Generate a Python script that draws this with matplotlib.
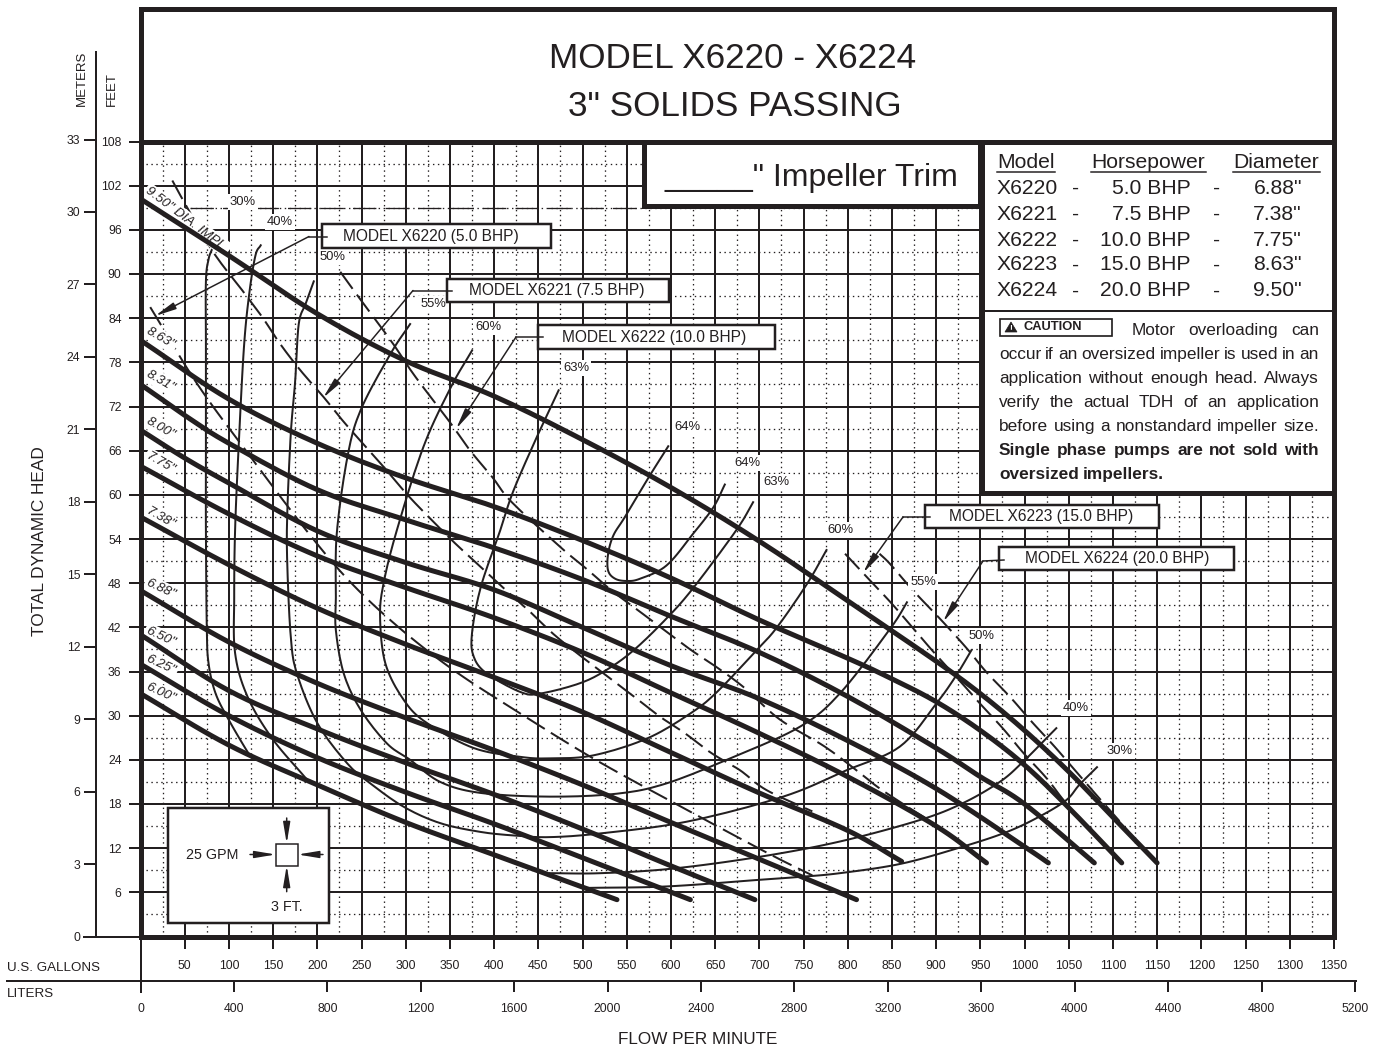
import matplotlib
matplotlib.use("Agg")
import matplotlib.pyplot as plt
from matplotlib.patches import Rectangle, Polygon
import numpy as np

plt.rcParams['font.family'] = ['Liberation Sans', 'DejaVu Sans']

INK = '#231f20'

# head curves, gpm / feet
h950_q = [0, 100, 200, 300, 400, 500, 600, 700, 800, 900, 950, 1000, 1050, 1100, 1150]
h950_h = [100.2, 92.5, 84.6, 78.2, 73.4, 67.5, 61, 53.7, 45.6, 37.4, 33, 28, 22.4, 16.2, 10]
h863_q = [0, 100, 200, 300, 400, 500, 600, 700, 800, 850, 900, 950, 1000, 1050, 1110]
h863_h = [81, 73, 67, 62.3, 58.4, 53.8, 48.7, 43, 37.8, 35, 31.9, 28, 23.3, 17.5, 10]
h831_q = [0, 50, 100, 200, 300, 400, 500, 600, 700, 800, 900, 950, 1000, 1079]
h831_h = [75, 70.8, 67, 60.7, 56.6, 52.8, 48.5, 43.5, 38.6, 32.6, 25.6, 21.7, 18, 10]
h800_q = [0, 50, 100, 200, 300, 400, 500, 600, 700, 800, 900, 1000, 1027]
h800_h = [68.8, 65, 61.6, 55.1, 50.8, 47.1, 42, 36.8, 32.3, 26.6, 20.1, 12.2, 10]
h775_q = [0, 100, 200, 300, 400, 500, 600, 700, 800, 900, 957]
h775_h = [63.9, 57.4, 51.7, 47.4, 43.3, 38.6, 33.1, 27.6, 21.7, 15, 10]
h738_q = [0, 100, 200, 300, 400, 500, 600, 700, 800, 861]
h738_h = [57, 50.5, 44.6, 39.7, 35.2, 30.5, 25, 19.5, 14.4, 10.2]
h688_q = [0, 100, 200, 300, 400, 500, 600, 700, 810]
h688_h = [47, 40, 34.4, 29.7, 25.3, 20.6, 15.5, 10.5, 5]
h650_q = [0, 100, 200, 300, 400, 500, 600, 695]
h650_h = [41, 33.4, 28.2, 23.6, 19.3, 14.6, 9.6, 5]
h625_q = [0, 100, 200, 300, 400, 500, 622]
h625_h = [37, 30, 24.3, 19.6, 15.3, 10.7, 5]
h600_q = [0, 100, 200, 300, 400, 539]
h600_h = [33, 26, 20.6, 15.5, 11.1, 5]

# efficiency contours
e30a_q = [81, 77, 74, 74, 74, 74, 75, 77, 85, 100, 121, 126]
e30a_h = [93.4, 92, 89, 80, 66.5, 55.2, 42, 37.1, 33, 29.4, 25.1, 24.4]
e30b_q = [505, 595, 700, 746, 791, 861, 930, 980, 1017, 1047, 1062, 1082]
e30b_h = [6.6, 6.8, 7.7, 8.1, 8.6, 9.9, 12.2, 14.2, 16.3, 18.5, 20.6, 23]
e40a_q = [136, 130, 123, 117, 111, 107, 106, 107, 121, 149, 187]
e40a_h = [93.9, 92.5, 87.3, 80, 66.5, 55.2, 46.1, 38.5, 32.6, 26.9, 21.5]
e40b_q = [463, 520, 600, 699, 791, 881, 930, 972, 998, 1036]
e40b_h = [8.6, 8.6, 9.2, 10.8, 12.9, 15.8, 18.1, 21, 23.7, 28.3]
e50_q = [196, 187, 179, 175, 170, 166, 166, 170, 177, 200, 234, 260, 298, 339, 385, 425, 463, 520, 618, 727, 799, 859, 900, 923, 940]
e50_h = [89, 86, 83.2, 75.5, 68.3, 57.4, 50.7, 40.7, 35.7, 29, 23.5, 20.8, 17.6, 15.4, 14.2, 13.7, 13.5, 14, 15.6, 19, 22.6, 25.8, 31.6, 35.5, 38.9]
e55_q = [305, 283, 249, 234, 222, 221, 221, 230, 249, 279, 305, 339, 385, 463, 539, 595, 671, 746, 791, 848, 867]
e55_h = [83.2, 79.2, 71.5, 65.1, 54.7, 46.1, 41.6, 35.7, 30.8, 26.2, 24, 21, 19.5, 19, 19.4, 20.8, 24.4, 28.5, 33, 41.8, 45.4]
e60_q = [375, 351, 320, 290, 275, 271, 277, 298, 324, 377, 430, 463, 512, 573, 622, 652, 697, 720, 754, 776]
e60_h = [79.6, 74.6, 66.5, 55.2, 48, 43.4, 37.1, 32.1, 29, 25.6, 24.4, 24.2, 24.6, 26.9, 30.3, 33.2, 38.9, 42, 47.9, 52.5]
e63_q = [473, 450, 422, 407, 385, 375, 377, 392, 430, 452, 497, 527, 558, 595, 625, 674, 693]
e63_h = [74.2, 68.3, 60.6, 55.2, 47.5, 41.2, 38, 35.7, 33.2, 33, 34.4, 36.2, 38.9, 43.2, 47.3, 55.2, 59]
e64_q = [597, 575, 548, 535, 529, 529, 537, 550, 565, 595, 625, 648, 661]
e64_h = [66.6, 62.4, 57, 54.5, 52, 49.7, 48.6, 48.3, 48.6, 50.4, 54.7, 58.3, 61.4]

# motor power limit lines
p50_q = [11, 64, 123, 192, 241, 296, 354, 419, 512, 612, 710, 760]
p50_h = [85.5, 75.1, 65.4, 54.5, 47.7, 41.6, 36.2, 31.1, 24.2, 17.6, 11.3, 8.3]
p75_q = [36, 45, 81, 115, 138, 158, 181, 207, 230, 255, 275, 302, 330, 356, 385, 411, 439, 467, 497, 556, 586, 616, 646, 678, 708, 760]
p75_h = [102.7, 100.7, 93.2, 87.8, 84.1, 80.5, 76.9, 73.3, 69.9, 66.5, 63.8, 60, 56.5, 53.4, 50.2, 47.3, 44.3, 41.1, 38.2, 32.8, 30, 27.6, 24.9, 22.6, 19.9, 17]
p100_q = [226, 241, 264, 287, 307, 330, 351, 373, 398, 420, 475, 504, 533, 563, 593, 623, 654, 684, 723, 774, 814, 834, 864, 897]
p100_h = [90.3, 87.8, 84.1, 80.3, 76.7, 73, 69.7, 66, 62.4, 59, 52.9, 50, 47, 44.3, 41.6, 38.9, 36.4, 33.7, 29.5, 25.8, 22.2, 20.3, 17.9, 15.4]
p150_q = [797, 825, 850, 876, 899, 933, 950, 976, 999, 1025, 1047, 1074, 1090]
p150_h = [52, 48.4, 45.2, 41.6, 38.4, 33.9, 31.6, 28.2, 24.9, 21.5, 18.1, 14.5, 12.5]
p200_q = [836, 848, 874, 908, 935, 957, 984, 1008, 1034, 1057, 1083, 1108, 1118]
p200_h = [52, 50.6, 47, 42.7, 39.1, 35.9, 32.5, 29.2, 25.8, 22.6, 19, 15.6, 14.2]

gallon_ticks = list(range(0, 1351, 50))
feet_ticks = list(range(0, 109, 6))
meter_ticks = list(range(0, 34, 3))
liter_ticks = list(range(0, 5201, 400))

table_models = ['X6220', 'X6221', 'X6222', 'X6223', 'X6224']
table_hp = ['5.0 BHP', '7.5 BHP', '10.0 BHP', '15.0 BHP', '20.0 BHP']
table_dia = ['6.88"', '7.38"', '7.75"', '8.63"', '9.50"']

caution_lines = [
    "Motor overloading can",
    "occur if an oversized impeller is used in an",
    "application without enough head. Always",
    "verify the actual TDH of an application",
    "before using a nonstandard impeller size.",
]
caution_bold = ["Single phase pumps are not sold with", "oversized impellers."]


def smooth(q, h, n=10):
    # catmull-rom, only so the drawn line has no corners
    p = np.column_stack([q, h]).astype(float)
    p = np.vstack([2 * p[0] - p[1], p, 2 * p[-1] - p[-2]])
    out = []
    for i in range(1, len(p) - 2):
        for t in np.linspace(0, 1, n, endpoint=False):
            out.append(0.5 * (2 * p[i] + (p[i + 1] - p[i - 1]) * t
                              + (2 * p[i - 1] - 5 * p[i] + 4 * p[i + 1] - p[i + 2]) * t ** 2
                              + (3 * p[i] - p[i - 1] - 3 * p[i + 1] + p[i + 2]) * t ** 3))
    out.append(p[-2])
    out = np.array(out)
    return out[:, 0], out[:, 1]


PX = 0.72  # points per pixel at dpi 100
W, H = 1380, 1050
X0, X1 = 140.5, 1333.9
Y0, Y1 = 936.5, 141.5
px_ft = (Y0 - Y1) / 108
px_gpm = (X1 - X0) / 1350
ARROW = '-|>,head_length=0.9,head_width=0.15'

fig = plt.figure(figsize=(13.8, 10.5), dpi=100)
ax = fig.add_axes([X0 / W, (H - Y0) / H, (X1 - X0) / W, (Y0 - Y1) / H])
ov = fig.add_axes([0, 0, 1, 1], zorder=5)
ov.set_xlim(0, W)
ov.set_ylim(H, 0)
ov.axis('off')

ax.set_xlim(0, 1350)
ax.set_ylim(0, 108)
for s in ax.spines.values():
    s.set_visible(False)
ax.set_xticks(gallon_ticks)
ax.set_xticklabels([''] + [str(v) for v in gallon_ticks[1:]], fontsize=8.8, color=INK)
ax.set_yticks(feet_ticks)
ax.set_yticklabels([''] + [str(v) for v in feet_ticks[1:]], fontsize=8.8, color=INK)
ax.set_xticks(np.arange(25, 1350, 50), minor=True)
ax.set_yticks(np.arange(3, 108, 6), minor=True)
ax.tick_params(which='major', length=12 * PX, width=2 * PX, color=INK)
ax.tick_params(axis='x', which='major', pad=8)
ax.tick_params(axis='y', which='major', pad=5)
ax.tick_params(which='minor', length=0)
ax.set_axisbelow(True)
ax.grid(which='major', color=INK, lw=2 * PX)
ax.grid(which='minor', color=INK, lw=1.3 * PX, ls=(0, (1.1, 2.7)))
ax.plot([56, 570], [99, 99], color=INK, lw=1.3 * PX, ls=(0, (18, 7)), zorder=0.8)

for q, h in [(h950_q, h950_h), (h863_q, h863_h), (h831_q, h831_h), (h800_q, h800_h), (h775_q, h775_h),
             (h738_q, h738_h), (h688_q, h688_h), (h650_q, h650_h), (h625_q, h625_h), (h600_q, h600_h)]:
    sx, sy = smooth(q, h)
    ax.plot(sx, sy, color=INK, lw=5 * PX, solid_capstyle='round', zorder=3)

for q, h in [(e30a_q, e30a_h), (e30b_q, e30b_h), (e40a_q, e40a_h), (e40b_q, e40b_h), (e50_q, e50_h),
             (e55_q, e55_h), (e60_q, e60_h), (e63_q, e63_h), (e64_q, e64_h)]:
    sx, sy = smooth(q, h)
    ax.plot(sx, sy, color=INK, lw=2 * PX, zorder=2.5)

for q, h in [(p50_q, p50_h), (p75_q, p75_h), (p100_q, p100_h), (p150_q, p150_h), (p200_q, p200_h)]:
    sx, sy = smooth(q, h)
    ax.plot(sx, sy, color=INK, lw=2 * PX, ls=(0, (10.5, 3.6)), zorder=2.5)

# meters axis
ax_m = fig.add_axes([96.5 / W, (H - Y0) / H, 0.0001, (Y0 - 52) / H])
ax_m.set_ylim(0, (Y0 - 52) / px_ft / 3.2808)
ax_m.set_xticks([])
ax_m.set_yticks(meter_ticks)
ax_m.tick_params(axis='y', length=12 * PX, width=2 * PX, color=INK, pad=3, labelsize=8.8, labelcolor=INK)
for k, s in ax_m.spines.items():
    s.set_visible(k == 'left')
ax_m.spines['left'].set_linewidth(2 * PX)
ax_m.spines['left'].set_color(INK)
ax_m.patch.set_visible(False)

# liters axis
ax_l = fig.add_axes([X0 / W, (H - 981) / H, (1355.5 - X0) / W, 0.0001])
ax_l.set_xlim(0, (1355.5 - X0) / px_gpm * 3.785)
ax_l.set_yticks([])
ax_l.set_xticks(liter_ticks)
ax_l.tick_params(axis='x', length=11 * PX, width=2 * PX, color=INK, pad=8, labelsize=8.8, labelcolor=INK)
for k, s in ax_l.spines.items():
    s.set_visible(k == 'bottom')
ax_l.spines['bottom'].set_linewidth(2 * PX)
ax_l.spines['bottom'].set_color(INK)
ax_l.patch.set_visible(False)

ov.plot([6.5, X0], [981, 981], color=INK, lw=2 * PX)
ov.plot([X0, X0], [937, 992], color=INK, lw=2 * PX)
ov.plot([84, X0], [Y0, Y0], color=INK, lw=2 * PX)
ov.text(7, 968, 'U.S. GALLONS', fontsize=9.6, color=INK, va='center')
ov.text(7, 994, 'LITERS', fontsize=9.6, color=INK, va='center')
ov.text(697.5, 1039, 'FLOW PER MINUTE', fontsize=12.3, color=INK, ha='center', va='center')
ov.text(40, 541, 'TOTAL DYNAMIC HEAD', fontsize=12.4, color=INK, rotation=90, ha='center', va='center')
ov.text(81.5, 106, 'METERS', fontsize=9.5, color=INK, rotation=90, ha='center', va='bottom')
ov.text(112, 106, 'FEET', fontsize=9.5, color=INK, rotation=90, ha='center', va='bottom')

# frame and title
ov.add_patch(Rectangle((X0, 9), X1 - X0, Y0 - 9, fc='none', ec=INK, lw=5 * PX))
ov.add_patch(Rectangle((X0, 9), X1 - X0, Y1 - 9, fc='white', ec=INK, lw=5 * PX, zorder=1))
ov.text(733, 59, 'MODEL X6220 - X6224', fontsize=25.3, color=INK, ha='center', va='center')
ov.text(734.5, 106, '3" SOLIDS PASSING', fontsize=25.3, color=INK, ha='center', va='center')

# impeller trim box
ov.add_patch(Rectangle((644, Y1), 336, 64, fc='white', ec=INK, lw=5 * PX, zorder=1))
ov.text(811, 178, '_____" Impeller Trim', fontsize=23, color=INK, ha='center', va='center')

# model table and caution
ov.add_patch(Rectangle((981.5, Y1), X1 - 981.5, 351, fc='white', ec=INK, lw=5 * PX, zorder=1))
ov.plot([984, 1331], [310.5, 310.5], color=INK, lw=2 * PX)
for label, x0, x1 in [('Model', 997, 1055), ('Horsepower', 1091, 1206), ('Diameter', 1233, 1320)]:
    ov.text((x0 + x1) / 2, 163, label, fontsize=15.2, color=INK, ha='center', va='center')
    ov.plot([x0, x1], [172, 172], color=INK, lw=1.5 * PX)
rows_y = [188, 214, 240, 265, 291]
for i in range(5):
    ov.text(997, rows_y[i], table_models[i], fontsize=15.2, color=INK, va='center')
    ov.text(1076, rows_y[i], '-', fontsize=15.2, color=INK, ha='center', va='center')
    ov.text(1191, rows_y[i], table_hp[i], fontsize=15.2, color=INK, ha='right', va='center')
    ov.text(1217, rows_y[i], '-', fontsize=15.2, color=INK, ha='center', va='center')
    ov.text(1302, rows_y[i], table_dia[i], fontsize=15.2, color=INK, ha='right', va='center')

ov.add_patch(Rectangle((999.5, 318.5), 112, 17, fc='white', ec=INK, lw=1.7 * PX))
ov.add_patch(Polygon([[1005, 332], [1017, 332], [1011, 322]], fc=INK, ec=INK, lw=0.5))
ov.text(1011, 328.5, '!', fontsize=6, color='white', weight='bold', ha='center', va='center')
ov.text(1024, 327.5, 'CAUTION', fontsize=9.3, color=INK, weight='bold', va='center')

renderer = fig.canvas.get_renderer()


def justified(line, y, x0, x1, size, weight='normal', stretch=True):
    words = line.split()
    items = [ov.text(0, y, w, fontsize=size, color=INK, weight=weight, va='baseline') for w in words]
    widths = [t.get_window_extent(renderer).width for t in items]
    gap = (x1 - x0 - sum(widths)) / (len(words) - 1) if stretch else size * 0.33
    x = x0
    for t, w in zip(items, widths):
        t.set_x(x)
        x += w + gap


cap_y = [335, 359, 383, 407, 431, 455, 479]
justified(caution_lines[0], cap_y[0], 1132, 1319, 12.4)
for i in range(1, 5):
    justified(caution_lines[i], cap_y[i], 999, 1319, 12.4)
justified(caution_bold[0], cap_y[5], 999, 1319, 12.4, weight='bold')
justified(caution_bold[1], cap_y[6], 999, 1319, 12.4, weight='bold', stretch=False)

# model labels with leaders
model_boxes = [
    ('MODEL X6220 (5.0 BHP)', 322, 224, 229, 24, 431, [(327, 236.5), (309, 236.5), (155, 316)]),
    ('MODEL X6221 (7.5 BHP)', 447, 279, 222, 23, 557, [(452, 290.5), (413, 290.5), (323, 398)]),
    ('MODEL X6222 (10.0 BHP)', 538, 325, 237, 24, 654, [(543, 337), (516, 337), (456, 429)]),
    ('MODEL X6223 (15.0 BHP)', 925, 505, 234, 23, 1041, [(930, 517), (903, 517), (863, 573)]),
    ('MODEL X6224 (20.0 BHP)', 999, 547, 235, 23, 1117, [(1004, 560), (983, 561), (943, 622)]),
]
for label, x, y, w, h, tx, pts in model_boxes:
    ov.add_patch(Rectangle((x, y), w, h, fc='white', ec=INK, lw=2.5 * PX, zorder=3))
    ov.text(tx, y + h / 2 + 0.5, label, fontsize=11.2, color=INK, ha='center', va='center', zorder=4)
    ov.plot([p[0] for p in pts[:2]], [p[1] for p in pts[:2]], color=INK, lw=1.5 * PX, zorder=4)
    ov.annotate('', xy=pts[2], xytext=pts[1], zorder=4,
                arrowprops=dict(arrowstyle=ARROW, color=INK, lw=1.5 * PX,
                                shrinkA=0, shrinkB=0, mutation_scale=14))

# percent labels, they sit under the head curves and cut grid and dashes
pct_labels = [('30%', 243, 202), ('40%', 280, 222), ('50%', 333, 257), ('55%', 433, 304), ('60%', 488, 327),
              ('63%', 576, 368), ('64%', 687, 427), ('64%', 747, 463), ('63%', 776, 482), ('60%', 840, 530),
              ('55%', 923, 582), ('50%', 982, 636), ('40%', 1076, 708), ('30%', 1120, 751)]
for s, x, y in pct_labels:
    ax.text(x, y, s, transform=ov.transData, fontsize=9.4, color=INK, ha='center', va='center', zorder=2.7,
            bbox=dict(fc='white', ec='none', pad=1.5))

trim_labels = [('9.50" DIA. IMPL.', 187, 220, -37), ('8.63"', 161, 338, -30), ('8.31"', 161, 381, -30),
               ('8.00"', 161, 428, -30), ('7.75"', 161, 463, -30), ('7.38"', 161, 518, -30),
               ('6.88"', 161, 589, -25), ('6.50"', 161, 637, -25), ('6.25"', 161, 665, -25), ('6.00"', 161, 693, -25)]
for s, x, y, r in trim_labels:
    ax.text(x, y, s, transform=ov.transData, fontsize=9.6, style='italic', color=INK, rotation=r,
            ha='center', va='center', zorder=2.7, bbox=dict(fc='white', ec='none', pad=1.5))

# scale key
ov.add_patch(Rectangle((167.7, 808), 161.6, 115, fc='white', ec=INK, lw=2.5 * PX))
ov.text(212, 855, '25 GPM', fontsize=10.3, color=INK, ha='center', va='center')
ov.text(286.7, 907, '3 FT.', fontsize=10.3, color=INK, ha='center', va='center')
ov.add_patch(Rectangle((275.7, 843.5), 22, 22, fc='white', ec=INK, lw=1.5 * PX))
for a, b in [((250, 854.5), (275.7, 854.5)), ((323, 854.5), (297.7, 854.5)),
             ((286.7, 818), (286.7, 843.5)), ((286.7, 891.7), (286.7, 865.5))]:
    ov.annotate('', xy=b, xytext=a, arrowprops=dict(arrowstyle=ARROW, color=INK, lw=1.5 * PX,
                                                    shrinkA=0, shrinkB=0, mutation_scale=14))

fig.savefig('out.png', dpi=100)
plt.close(fig)
